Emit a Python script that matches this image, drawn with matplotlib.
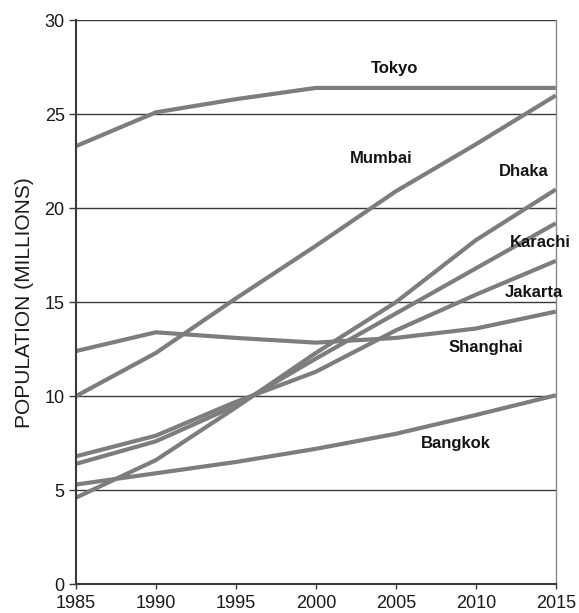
import matplotlib
matplotlib.use("Agg")
import matplotlib.pyplot as plt

plt.rcParams['font.family'] = ['Liberation Sans', 'DejaVu Sans']

years = [1985, 1990, 1995, 2000, 2005, 2010, 2015]
tokyo = [23.3, 25.1, 25.8, 26.4, 26.4, 26.4, 26.4]
mumbai = [10.0, 12.3, 15.2, 18.0, 20.9, 23.4, 26.0]
dhaka = [4.6, 6.6, 9.4, 12.3, 15.0, 18.3, 21.0]
karachi = [6.4, 7.6, 9.5, 12.0, 14.4, 16.8, 19.2]
jakarta = [6.8, 7.9, 9.7, 11.3, 13.5, 15.4, 17.2]
shanghai = [12.4, 13.4, 13.1, 12.85, 13.1, 13.6, 14.5]
bangkok = [5.3, 5.9, 6.5, 7.2, 8.0, 9.0, 10.05]

cities = ["Tokyo", "Mumbai", "Dhaka", "Karachi", "Jakarta", "Shanghai", "Bangkok"]
series = [tokyo, mumbai, dhaka, karachi, jakarta, shanghai, bangkok]
# label spots (year, value)
label_pos = [(2004.9, 27.45), (2004.1, 22.65), (2013.0, 21.95), (2014.0, 18.2),
             (2013.6, 15.5), (2010.6, 12.6), (2008.75, 7.5)]

fig = plt.figure(figsize=(5.79, 6.13), dpi=100)
ax = fig.add_axes([0.131, 0.047, 0.829, 0.92])

for y in [5, 10, 15, 20, 25, 30]:
    ax.axhline(y, color="#3a3a3a", lw=1.0, zorder=1)

for name, vals, (lx, ly) in zip(cities, series, label_pos):
    ax.plot(years, vals, color="#7d7d7d", lw=3.0, solid_capstyle="butt", zorder=2)
    ax.text(lx, ly, name, ha="center", va="center", fontsize=12,
            fontweight="bold", color="#141414", zorder=3)

ax.set_xlim(1985, 2015)
ax.set_ylim(0, 30)
ax.set_xticks(years)
ax.set_yticks([0, 5, 10, 15, 20, 25, 30])
ax.tick_params(axis="both", labelsize=13, colors="#3a3a3a", labelcolor="#1a1a1a",
               width=1.0, direction="out")
ax.tick_params(axis="x", length=3.5, pad=4)
ax.tick_params(axis="y", length=5, pad=3)
ax.set_ylabel("POPULATION (MILLIONS)", fontsize=15, color="#1a1a1a", labelpad=8)

for s in ["left", "bottom"]:
    ax.spines[s].set_color("#3a3a3a")
    ax.spines[s].set_linewidth(1.5)
ax.spines["right"].set_color("#8a8a8a")
ax.spines["right"].set_linewidth(1.0)
ax.spines["top"].set_visible(False)

fig.savefig("out.png", dpi=100)
